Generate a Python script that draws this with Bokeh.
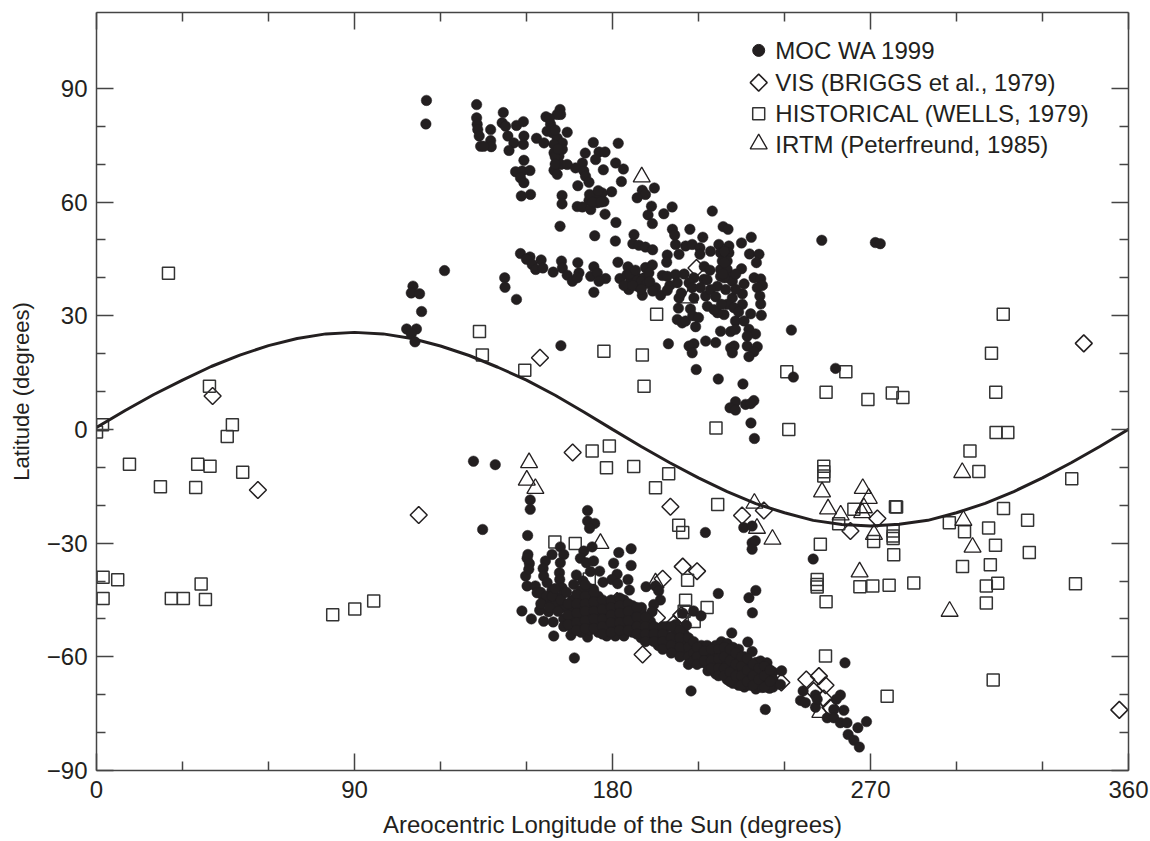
import math

from bokeh.core.properties import value
from bokeh.embed import file_html
from bokeh.models import FixedTicker, LinearAxis, Range1d
from bokeh.plotting import figure
from bokeh.resources import INLINE

INK = "#231f20"
FONT = "Liberation Sans"

# all points are (areocentric longitude, latitude)
moc_north_cap = [
    (115.1, 86.8), (114.9, 80.6), (132.6, 85.7), (132.6, 82.2), (132.8, 80.5), (133.0, 79.1), (133.5, 77.4),
    (134.0, 74.7), (137.5, 79.1), (137.5, 76.2), (137.7, 74.6), (135.1, 74.7), (141.9, 83.6), (141.5, 80.9),
    (142.7, 80.0), (143.5, 77.4), (145.6, 75.6), (143.9, 73.6), (146.5, 80.2), (148.9, 81.2), (149.1, 77.4),
    (148.9, 75.2), (153.5, 76.8), (156.1, 75.6), (156.8, 82.5), (161.7, 84.4), (161.9, 83.1), (160.7, 83.1),
    (158.4, 80.5), (157.2, 78.7), (159.0, 78.3), (164.2, 78.4), (160.7, 76.9), (162.5, 75.6), (159.6, 75.2),
    (162.5, 73.9), (159.6, 73.0), (161.3, 72.1), (161.9, 69.9), (164.2, 69.9), (159.6, 68.4), (160.7, 67.3),
    (149.1, 71.0), (146.2, 68.0), (148.5, 68.2), (151.2, 68.3), (147.9, 66.4), (149.1, 65.1), (148.2, 61.6),
    (151.4, 62.0), (162.4, 61.7), (162.4, 59.5), (161.7, 53.6), (173.3, 75.7), (170.5, 72.9), (175.3, 73.2),
    (177.4, 73.2), (174.1, 71.2), (182.0, 75.5), (181.1, 70.3), (183.8, 68.7), (176.8, 68.5), (169.5, 70.3),
    (167.1, 69.0), (170.0, 68.2), (170.6, 66.8), (171.8, 65.2), (167.9, 64.3), (183.1, 65.4), (179.7, 62.7),
    (176.4, 62.4), (174.1, 61.6), (171.8, 60.4), (177.0, 60.1), (174.7, 59.8), (167.7, 58.8), (169.5, 58.7),
    (172.4, 58.0), (177.4, 56.8), (181.2, 54.6), (173.8, 51.1), (181.0, 49.7), (190.4, 63.1), (191.5, 62.0),
    (188.6, 61.1), (194.6, 63.7), (193.6, 58.9), (192.4, 56.6), (193.9, 54.3), (197.9, 56.9), (200.8, 58.7),
    (160, 79), (158, 82), (160, 72), (161, 74), (160, 70), (172, 62), (173, 60), (175, 63), (176, 60),
]
moc_north_edge = [
    (214.8, 57.6), (218.6, 53.5), (220.3, 52.8), (228.4, 50.7), (225.0, 49.2), (187.5, 51.4), (187.1, 49.0),
    (189.2, 48.6), (191.5, 48.1), (194.0, 47.4), (200.9, 52.8), (201.7, 51.3), (207.0, 52.8), (211.5, 50.7),
    (202.0, 48.8), (203.2, 46.2), (199.1, 46.0), (198.9, 44.1), (205.5, 48.4), (207.8, 48.8), (210.5, 47.9),
    (210.5, 46.2), (214.2, 47.0), (217.1, 48.8), (220.6, 48.4), (217.7, 46.6), (220.6, 46.6), (218.3, 44.4),
    (220.0, 44.4), (217.7, 42.2), (220.0, 42.2), (217.7, 40.4), (220.6, 40.0), (225.0, 42.4), (227.8, 46.3),
    (231.1, 46.2), (230.2, 44.0), (229.4, 40.0), (231.7, 39.7), (232.3, 38.0), (230.5, 37.4), (225.9, 38.4),
    (221.8, 39.1), (231.4, 35.2), (231.7, 33.1), (231.9, 30.1), (228.2, 30.5), (225.3, 35.8), (225.3, 33.0),
    (221.8, 34.7), (220.0, 33.0), (222.4, 32.1), (218.9, 30.3), (216.6, 30.8), (213.1, 32.5), (215.4, 31.6),
    (212.5, 35.2), (216.6, 37.8), (219.5, 36.9), (211.9, 39.6), (214.2, 36.9), (208.4, 40.0), (206.7, 38.7),
    (207.8, 37.4), (210.7, 37.4), (208.4, 34.7), (203.2, 34.7), (207.2, 31.8), (222.9, 28.6), (225.9, 28.6),
    (217.7, 25.9), (221.2, 25.8), (222.9, 26.4), (227.6, 26.4), (229.9, 25.2), (227.0, 24.6), (227.0, 22.0),
    (230.5, 21.8), (229.3, 20.5), (227.6, 19.2), (222.4, 22.0), (221.2, 21.5), (221.8, 20.2), (216.0, 22.9),
    (212.5, 23.3), (208.4, 22.6), (206.7, 22.0), (207.8, 20.2), (209.0, 27.1), (202.6, 29.0), (204.3, 28.1),
    (205.5, 28.6), (199.5, 22.6), (209.2, 15.8), (216.9, 13.3), (225.5, 12.0), (222.9, 7.3), (221.0, 5.7),
    (222.9, 5.1), (226.4, 6.6), (229.3, 7.6), (228.2, 6.8), (228.3, 1.7), (229.5, -2.4),
    (212, 43), (214, 42), (213, 39.5), (216, 35), (218, 33), (223, 37), (224, 31), (223, 41), (219, 40),
    (219, 44), (219, 47), (218.5, 41), (208, 30), (210, 29.5), (203, 32), (205, 41), (204, 36), (200, 38),
]
moc_north_belt = [
    (147.9, 46.4), (151.2, 45.5), (150.0, 44.9), (155.1, 44.7), (152.0, 43.5), (153.2, 42.2), (155.7, 42.6),
    (159.3, 41.5), (162.2, 44.4), (162.5, 42.6), (164.2, 40.7), (166.0, 39.1), (167.9, 44.0), (168.3, 41.3),
    (167.7, 40.0), (173.5, 42.9), (172.4, 40.4), (174.7, 41.3), (177.6, 39.8), (175.3, 39.1), (173.5, 36.2),
    (181.9, 44.1), (185.4, 42.9), (182.6, 39.8), (185.1, 40.9), (187.5, 41.3), (191.5, 42.7), (193.9, 43.4),
    (186.3, 39.1), (188.6, 40.0), (191.0, 40.0), (185.7, 36.9), (188.6, 37.8), (190.4, 35.4), (195.0, 37.4),
    (196.8, 35.4), (199.1, 36.7), (197.4, 40.6), (199.1, 40.4), (202.0, 40.9), (202.6, 38.7), (192.7, 41.3),
    (186, 41), (188, 42), (190, 39), (192, 38.5), (184, 38), (187, 38), (190, 37), (193, 39), (194, 36.5),
]
moc_isolated = [
    (162.0, 22.1), (121.4, 41.9), (142.4, 40.0), (142.5, 37.5), (146.5, 34.3), (110.4, 37.8), (109.8, 36.0),
    (112.7, 35.8), (113.4, 31.1), (108.2, 26.5), (111.6, 26.5), (109.8, 25.2), (111.1, 23.1), (242.4, 26.2),
    (243.1, 13.8), (257.8, 16.1), (253.0, 49.9), (271.7, 49.3), (273.4, 49.0), (250.0, -34.2), (131.5, -8.4),
    (139.1, -9.3), (134.7, -26.4), (151.3, -18.6), (151.3, -21.1), (150.4, -28.0), (171.3, -21.4),
    (171.3, -24.2), (173.8, -24.8), (172.0, -26.1), (212.4, -27.2), (225.8, -25.9), (228.7, -25.5),
    (228.7, -29.9), (229.8, -29.4), (228.7, -31.6), (216.9, -43.3), (227.6, -44.4), (230.0, -42.5),
    (228.8, -48.4), (207.4, -69.0), (233.3, -73.9), (166.7, -60.3), (261.1, -61.6),
]
moc_south_arcs = [
    (150.5, -33.0), (150.2, -34.0), (151.0, -35.4), (149.7, -38.7), (150.8, -36.9), (150.2, -41.3),
    (153.1, -41.3), (153.7, -43.1), (148.4, -47.9), (151.7, -50.0), (154.6, -47.7), (156.0, -50.6),
    (157.7, -48.1), (159.3, -50.8), (159.5, -54.5), (165.5, -54.3), (171.3, -54.8), (161.8, -31.0),
    (158.9, -33.0), (156.6, -34.7), (155.8, -36.7), (156.0, -38.7), (157.2, -40.4), (158.9, -42.4),
    (156.0, -44.4), (158.3, -45.3), (161.2, -44.4), (160.1, -46.2), (163.0, -33.0), (161.8, -35.2),
    (161.5, -37.8), (161.6, -39.6), (162.4, -41.8), (163.0, -43.1), (170.0, -32.1), (172.9, -31.0),
    (168.8, -34.0), (170.9, -35.2), (173.4, -34.7), (172.3, -37.5), (175.5, -37.4), (167.4, -38.4),
    (166.5, -40.9), (169.7, -40.0), (173.4, -42.2), (176.7, -40.3), (182.2, -32.5), (186.5, -31.5),
    (180.4, -35.3), (186.5, -35.9), (181.6, -38.2), (179.8, -39.6), (181.8, -40.7), (185.4, -39.6),
    (185.9, -42.4), (191.7, -41.5), (195.0, -41.3), (196.1, -42.6), (196.7, -45.0), (194.4, -46.2),
    (190.1, -47.0), (193.8, -48.1), (193.2, -50.6), (204.5, -48.5), (208.3, -47.9), (210.9, -49.2),
    (205.8, -51.7), (221.6, -53.7), (227.2, -56.1), (228.7, -58.6),
]
moc_south_blob = [
    (163, -47), (163, -50), (163, -52), (166, -45), (166, -47.5), (166, -50), (166, -52.5),
    (169, -42.5), (169, -45), (169, -47), (169, -49.5), (169, -52), (169, -53.5),
    (172, -42), (172, -44.5), (172, -47), (172, -49), (172, -51.5), (172, -53),
    (175, -44), (175, -46.5), (175, -48.5), (175, -51), (175, -53.5),
    (178, -46), (178, -48), (178, -50), (178, -52.5), (178, -54.5),
    (181, -45.5), (181, -47.5), (181, -50), (181, -52), (181, -54.5),
    (184, -45), (184, -47), (184, -49.5), (184, -52), (184, -54.5),
    (187, -46.5), (187, -49), (187, -51), (187, -53.5), (190, -48), (190, -50.5), (190, -53), (190, -55),
    (193, -51), (193, -53), (193, -55.5), (196, -52.5), (196, -55), (196, -57),
    (199, -52), (199, -54.5), (199, -57.5), (202, -51.5), (202, -53.5), (202, -56), (202, -58.5),
    (205, -54), (205, -56), (205, -59),
    (155, -43), (157, -44), (159, -44), (160, -42), (162, -45), (164, -43), (155, -46), (158, -47), (161, -48),
    (164.5, -46), (164.5, -49), (164.5, -51.5), (167.5, -43.5), (167.5, -46), (167.5, -48.5), (167.5, -51),
    (167.5, -53), (170.5, -41), (170.5, -44), (170.5, -46), (170.5, -48), (170.5, -50.5), (170.5, -52.5),
    (173.5, -43), (173.5, -45.5), (173.5, -48), (173.5, -50), (173.5, -52.5), (176.5, -45), (176.5, -47.5),
    (176.5, -50), (176.5, -52), (176.5, -54), (179.5, -45), (179.5, -47), (179.5, -49), (179.5, -51),
    (179.5, -53.5), (182.5, -44.5), (182.5, -46.5), (182.5, -48.5), (182.5, -51), (182.5, -53), (185.5, -46),
    (185.5, -48), (185.5, -50.5), (185.5, -53), (188.5, -47), (188.5, -49.5), (188.5, -52), (188.5, -54),
    (191.5, -49.5), (191.5, -52), (191.5, -54), (191.5, -56), (194.5, -52), (194.5, -54), (194.5, -56),
    (197.5, -52), (197.5, -54), (197.5, -56), (197.5, -58), (200.5, -52), (200.5, -55), (200.5, -57),
    (200.5, -59), (203.5, -53), (203.5, -55), (203.5, -57.5), (203.5, -60), (206.5, -55), (206.5, -57.5),
    (206.5, -60), (206.5, -62),
]
moc_south_band = [
    (208.3, -56), (208.3, -59), (208.3, -61), (211, -57), (211, -59.5), (211, -61.5),
    (213, -57), (213, -60), (213, -62), (213.3, -63.7), (216, -57), (216, -60), (216, -62.5), (216, -64.5),
    (218, -56), (218, -59), (218, -61.5), (218, -64), (220, -56.5), (220, -59.5), (220, -62), (220, -64.5),
    (220, -66), (222, -57.5), (222, -60), (222, -63), (222, -65.5), (222, -67), (224, -58), (224, -61),
    (224, -63.5), (224, -66), (224, -67.5), (226, -60), (226, -63), (226, -66), (226, -68),
    (228, -62), (228, -65), (228, -67.5), (230, -61.5), (230, -64), (230, -66.5), (230, -68.5),
    (232, -62), (232, -65), (232, -67.5), (232.2, -68.1), (234, -63), (234, -66), (234, -68),
    (236, -64), (236, -66), (236, -68), (222.9, -66.8), (233.9, -61.6), (231.6, -61.1),
    (239.0, -63.7), (238.6, -67.3), (234.8, -68.3),
    (209.5, -57.5), (209.5, -60), (209.5, -62), (212, -58.5), (212, -61), (214.5, -58), (214.5, -61),
    (214.5, -63), (217, -58), (217, -60.5), (217, -63), (217, -65), (219, -57.5), (219, -60), (219, -63),
    (219, -65), (221, -58), (221, -61), (221, -64), (221, -66.5), (223, -59), (223, -62), (223, -65),
    (225, -60), (225, -62.5), (225, -65), (225, -67.5), (227, -60.5), (227, -63.5), (227, -66.5),
    (229, -62), (229, -65), (229, -67.5), (231, -63), (231, -66), (233, -62.5), (233, -65), (233, -68),
    (235, -63.5), (235, -66.5),
]
moc_south_tail = [
    (246.5, -69.0), (245.6, -71.5), (247.3, -72.1), (250.8, -70.1), (250.8, -73.3), (251.4, -71.2),
    (259.5, -70.1), (258.1, -71.2), (257.2, -73.9), (260.7, -74.1), (254.9, -76.1), (257.2, -76.1),
    (259.5, -77.4), (261.8, -77.4), (265.6, -78.7), (268.6, -77.1), (262.2, -80.5), (264.2, -82.0),
    (266.1, -83.8),
]

vis_points = [
    (209.3, 42.6), (154.7, 18.9), (166.1, -6.1), (200.2, -20.4), (225.2, -22.7), (232.8, -21.4),
    (204.5, -36.2), (209.5, -37.4), (197.5, -39.4), (204.0, -49.0), (201.4, -51.3), (181.6, -45.3),
    (195.5, -49.7), (190.5, -59.4), (238.9, -66.8), (247.6, -66.0), (252.0, -65.1), (254.3, -67.5),
    (250.2, -69.0), (253.7, -71.0), (256.0, -73.4), (344.4, 22.7), (263.0, -26.8), (272.4, -23.5),
    (356.8, -74.0), (40.5, 8.8), (56.3, -16.0), (112.4, -22.6),
]

historical_points = [
    (39.4, 11.4), (2.1, 1.2), (0.0, -0.7), (47.4, 1.2), (45.6, -1.9), (11.5, -9.2), (35.3, -9.2), (39.6, -9.7),
    (51.0, -11.3), (22.3, -15.1), (34.6, -15.3), (2.3, -39.0), (7.4, -39.7), (2.3, -44.6), (26.1, -44.6),
    (30.3, -44.6), (36.5, -40.8), (38.0, -44.9), (82.4, -48.9), (90.1, -47.4), (96.7, -45.3), (25.1, 41.2),
    (133.6, 25.8), (134.6, 19.6), (149.4, 15.6), (177.0, 20.6), (190.4, 19.6), (191.0, 11.4), (195.4, 30.4),
    (216.1, 0.4), (172.9, -5.7), (178.9, -4.4), (177.9, -10.1), (187.4, -9.8), (199.6, -11.7), (195.0, -15.4),
    (216.7, -19.8), (203.1, -25.3), (204.5, -27.2), (159.9, -29.7), (167.0, -30.1), (171.9, -39.5),
    (206.2, -39.8), (205.5, -45.1), (213.0, -47.0), (208.5, -50.7), (205.0, -48.0), (254.3, -59.8),
    (253.7, -9.7), (253.7, -11.2), (253.7, -12.3), (264.2, -21.1), (258.9, -24.9), (278.7, -20.4),
    (277.9, -26.8), (277.9, -28.1), (277.9, -28.8), (271.1, -29.6), (278.1, -33.1), (252.5, -30.3),
    (251.4, -39.6), (251.4, -40.9), (251.4, -41.6), (254.5, -45.5), (266.3, -41.5), (270.8, -41.3),
    (276.5, -41.1), (275.8, -70.4), (316.3, 30.4), (312.2, 20.1), (313.7, 9.8), (240.8, 15.2), (261.4, 15.2),
    (254.5, 9.8), (269.1, 7.9), (277.6, 9.6), (281.3, 8.4), (241.5, 0.0), (313.8, -0.8), (317.9, -0.8),
    (304.7, -5.7), (307.8, -11.1), (340.2, -13.0), (279.1, -20.5), (316.4, -20.9), (324.8, -24.0),
    (297.5, -24.6), (302.8, -27.0), (311.2, -26.0), (313.6, -30.6), (325.4, -32.5), (302.1, -36.2),
    (311.8, -35.7), (285.1, -40.5), (314.4, -40.6), (310.4, -41.3), (341.5, -40.7), (310.4, -45.8),
    (312.8, -66.1),
]

irtm_points = [
    (190.2, 66.6), (206.7, 34.7), (150.9, -8.8), (150.1, -13.4), (153.1, -15.6), (175.8, -30.1), (195.0, -40.5),
    (229.5, -19.5), (230.4, -26.1), (235.8, -29.0), (253.1, -16.5), (255.2, -21.0), (259.6, -22.6),
    (267.3, -15.6), (269.4, -18.2), (267.7, -20.7), (267.1, -22.0), (271.2, -27.7), (302.0, -11.4),
    (302.4, -24.0), (305.6, -31.1), (266.2, -37.6), (297.6, -48.0), (252.5, -74.7),
]

subsolar_lon = list(range(0, 361, 10))
subsolar_lat = [
    0.5, 5, 9.2, 13, 16.6, 19.6, 22.1, 24, 25.2, 25.6, 25.2, 24, 22, 19.5, 16.4, 13, 9, 4.6, 0,
    -4.5, -8.8, -12.8, -16.4, -19.6, -22, -24, -25.1, -25.5, -25, -24, -22, -19.5, -16.4, -12.8, -8.8, -4.5, 0,
]

legend_labels = [
    "MOC WA 1999",
    "VIS (BRIGGS et al., 1979)",
    "HISTORICAL (WELLS, 1979)",
    "IRTM (Peterfreund, 1985)",
]
legend_key_lon = 231.0
legend_text_lon = 236.8
legend_lat = [100.0, 91.5, 83.3, 75.3]

x_major = [0, 90, 180, 270, 360]
x_minor = [30, 60, 120, 150, 210, 240, 300, 330]
y_major = [-90, -60, -30, 0, 30, 60, 90]
y_minor = [-80, -70, -50, -40, -20, -10, 10, 20, 40, 50, 70, 80]
y_labels = {-90: "\u221290", -60: "\u221260", -30: "\u221230", 0: "0", 30: "30", 60: "60", 90: "90"}

moc_points = (
    moc_north_cap + moc_north_edge + moc_north_belt + moc_isolated
    + moc_south_arcs + moc_south_blob + moc_south_band + moc_south_tail
)


def split(points):
    return [pt[0] for pt in points], [pt[1] for pt in points]


def style_axis(axis, ticks, minor):
    axis.ticker = FixedTicker(ticks=ticks, minor_ticks=minor)
    axis.axis_line_color = "#444444"
    axis.axis_line_width = 1.5
    axis.major_tick_line_color = "#444444"
    axis.major_tick_line_width = 1.5
    axis.minor_tick_line_color = "#444444"
    axis.minor_tick_line_width = 1.5
    axis.major_tick_in = 17
    axis.major_tick_out = 0
    axis.minor_tick_in = 9
    axis.minor_tick_out = 0
    axis.major_label_text_font = FONT
    axis.major_label_text_font_size = "24px"
    axis.major_label_text_color = INK
    axis.axis_label_text_font = FONT
    axis.axis_label_text_font_style = "normal"
    axis.axis_label_text_color = INK


p = figure(
    width=1150,
    height=840,
    x_range=Range1d(0, 360),
    y_range=Range1d(-90, 110),
    output_backend="svg",
    toolbar_location=None,
    min_border_left=96,
    min_border_right=22,
    min_border_top=12,
    min_border_bottom=70,
    x_axis_label="Areocentric Longitude of the Sun (degrees)",
    y_axis_label="Latitude (degrees)",
)
p.grid.visible = False
p.outline_line_color = None

style_axis(p.xaxis[0], x_major, x_minor)
style_axis(p.yaxis[0], y_major, y_minor)
p.yaxis[0].major_label_overrides = y_labels
p.xaxis[0].major_label_standoff = 10
p.yaxis[0].major_label_standoff = 9
p.xaxis[0].axis_label_text_font_size = "24px"
p.yaxis[0].axis_label_text_font_size = "22px"
p.xaxis[0].axis_label_standoff = 10
p.yaxis[0].axis_label_standoff = 10
# squeezes the label box so that the frame keeps its place in the window
p.xaxis[0].axis_label_text_line_height = 0.7

top_axis = LinearAxis(major_label_overrides={t: "" for t in x_major})
style_axis(top_axis, x_major, x_minor)
p.add_layout(top_axis, "above")
right_axis = LinearAxis(major_label_overrides={t: "" for t in y_major})
style_axis(right_axis, y_major, y_minor)
p.add_layout(right_axis, "right")

x, y = split(vis_points)
p.scatter(x, y, marker="square", angle=math.pi / 4, size=12, fill_color=None, line_color=INK, line_width=1.5)
x, y = split(historical_points)
p.scatter(x, y, marker="square", size=12, fill_color=None, line_color="#333333", line_width=1.5)
x, y = split(irtm_points)
p.scatter(x, y, marker="triangle", size=17, fill_color=None, line_color=INK, line_width=1.3)

p.line(subsolar_lon, subsolar_lat, line_color=INK, line_width=3)

x, y = split(moc_points)
p.scatter(x, y, marker="circle", size=10.5, fill_color=INK, line_color=INK, line_width=0.5)

# legend keys, drawn by hand because the Legend model cannot rotate or scale them
p.scatter([legend_key_lon], [legend_lat[0]], marker="circle", size=12, fill_color=INK, line_color=INK)
p.scatter([legend_key_lon], [legend_lat[1]], marker="square", angle=math.pi / 4, size=12,
          fill_color=None, line_color=INK, line_width=1.5)
p.scatter([legend_key_lon], [legend_lat[2]], marker="square", size=12,
          fill_color=None, line_color="#333333", line_width=1.5)
p.scatter([legend_key_lon], [legend_lat[3]], marker="triangle", size=17,
          fill_color=None, line_color=INK, line_width=1.3)
p.text(
    [legend_text_lon] * 4,
    legend_lat,
    text=legend_labels,
    text_font=value(FONT),
    text_font_size="24px",
    text_color=INK,
    text_baseline="middle",
)

open("out.html", "w").write(file_html(p, INLINE))
